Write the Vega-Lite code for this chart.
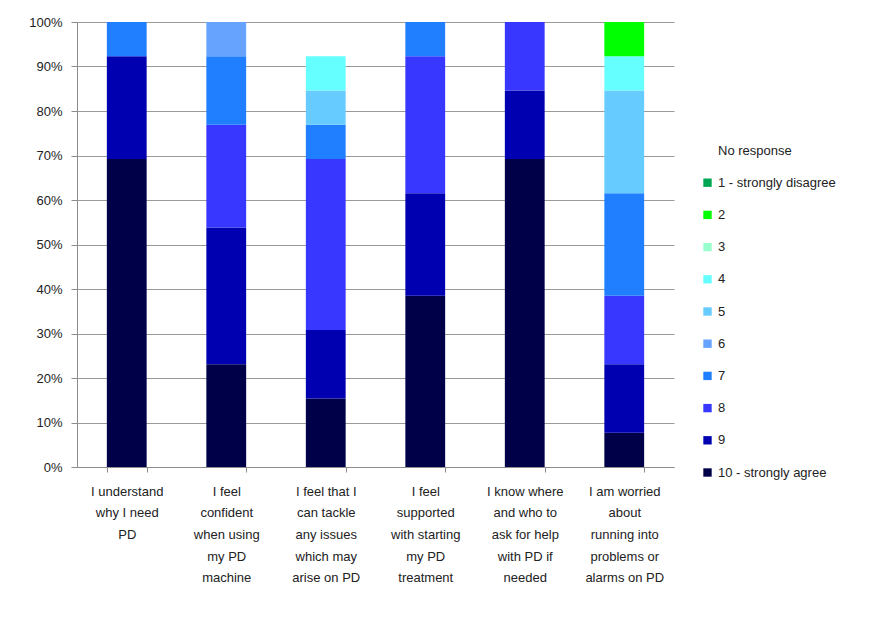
{
  "$schema": "https://vega.github.io/schema/vega-lite/v6.json",
  "autosize": {"type": "none"},
  "width": 597,
  "height": 445,
  "padding": {"left": 77, "top": 22, "right": 197, "bottom": 152},
  "background": "white",
  "config": {
    "font": "Liberation Sans",
    "view": {"stroke": null}
  },
  "data": {
    "values": [
      {"q": "I understand|why I need|PD", "resp": "10 - strongly agree", "score": 10, "n": 9},
      {"q": "I understand|why I need|PD", "resp": "9", "score": 9, "n": 3},
      {"q": "I understand|why I need|PD", "resp": "7", "score": 7, "n": 1},

      {"q": "I feel|confident|when using|my PD|machine", "resp": "10 - strongly agree", "score": 10, "n": 3},
      {"q": "I feel|confident|when using|my PD|machine", "resp": "9", "score": 9, "n": 4},
      {"q": "I feel|confident|when using|my PD|machine", "resp": "8", "score": 8, "n": 3},
      {"q": "I feel|confident|when using|my PD|machine", "resp": "7", "score": 7, "n": 2},
      {"q": "I feel|confident|when using|my PD|machine", "resp": "6", "score": 6, "n": 1},

      {"q": "I feel that I|can tackle|any issues|which may|arise on PD", "resp": "10 - strongly agree", "score": 10, "n": 2},
      {"q": "I feel that I|can tackle|any issues|which may|arise on PD", "resp": "9", "score": 9, "n": 2},
      {"q": "I feel that I|can tackle|any issues|which may|arise on PD", "resp": "8", "score": 8, "n": 5},
      {"q": "I feel that I|can tackle|any issues|which may|arise on PD", "resp": "7", "score": 7, "n": 1},
      {"q": "I feel that I|can tackle|any issues|which may|arise on PD", "resp": "5", "score": 5, "n": 1},
      {"q": "I feel that I|can tackle|any issues|which may|arise on PD", "resp": "4", "score": 4, "n": 1},
      {"q": "I feel that I|can tackle|any issues|which may|arise on PD", "resp": "No response", "score": 0, "n": 1},

      {"q": "I feel|supported|with starting|my PD|treatment", "resp": "10 - strongly agree", "score": 10, "n": 5},
      {"q": "I feel|supported|with starting|my PD|treatment", "resp": "9", "score": 9, "n": 3},
      {"q": "I feel|supported|with starting|my PD|treatment", "resp": "8", "score": 8, "n": 4},
      {"q": "I feel|supported|with starting|my PD|treatment", "resp": "7", "score": 7, "n": 1},

      {"q": "I know where|and who to|ask for help|with PD if|needed", "resp": "10 - strongly agree", "score": 10, "n": 9},
      {"q": "I know where|and who to|ask for help|with PD if|needed", "resp": "9", "score": 9, "n": 2},
      {"q": "I know where|and who to|ask for help|with PD if|needed", "resp": "8", "score": 8, "n": 2},

      {"q": "I am worried|about|running into|problems or|alarms on PD", "resp": "10 - strongly agree", "score": 10, "n": 1},
      {"q": "I am worried|about|running into|problems or|alarms on PD", "resp": "9", "score": 9, "n": 2},
      {"q": "I am worried|about|running into|problems or|alarms on PD", "resp": "8", "score": 8, "n": 2},
      {"q": "I am worried|about|running into|problems or|alarms on PD", "resp": "7", "score": 7, "n": 3},
      {"q": "I am worried|about|running into|problems or|alarms on PD", "resp": "5", "score": 5, "n": 3},
      {"q": "I am worried|about|running into|problems or|alarms on PD", "resp": "4", "score": 4, "n": 1},
      {"q": "I am worried|about|running into|problems or|alarms on PD", "resp": "2", "score": 2, "n": 1}
    ]
  },
  "mark": {"type": "bar"},
  "encoding": {
    "x": {
      "field": "q",
      "type": "nominal",
      "sort": null,
      "scale": {"paddingInner": 0.6, "paddingOuter": 0.3},
      "axis": {
        "title": null,
        "labelAngle": 0,
        "labelExpr": "split(datum.label, '|')",
        "labelFontSize": 13,
        "labelColor": "#222222",
        "labelLineHeight": 21.7,
        "labelPadding": 13,
        "labelLimit": 0,
        "tickBand": "extent",
        "tickColor": "#8c8c8c",
        "tickSize": 5,
        "domainColor": "#8c8c8c",
        "grid": false
      }
    },
    "y": {
      "field": "n",
      "type": "quantitative",
      "stack": "normalize",
      "scale": {"domain": [0, 1], "nice": false},
      "axis": {
        "title": null,
        "format": ".0%",
        "values": [0, 0.1, 0.2, 0.3, 0.4, 0.5, 0.6, 0.7, 0.8, 0.9, 1],
        "labelFontSize": 13,
        "labelColor": "#222222",
        "labelPadding": 9,
        "tickColor": "#8c8c8c",
        "tickSize": 6,
        "domainColor": "#8c8c8c",
        "gridColor": "#9a9a9a",
        "gridWidth": 1
      }
    },
    "color": {
      "field": "resp",
      "type": "nominal",
      "scale": {
        "domain": ["No response", "1 - strongly disagree", "2", "3", "4", "5", "6", "7", "8", "9", "10 - strongly agree"],
        "range": ["transparent", "#00a651", "#00ff00", "#99ffcc", "#66ffff", "#66ccff", "#66a3ff", "#1f7fff", "#3737ff", "#0000b0", "#000048"]
      },
      "legend": {
        "title": null,
        "orient": "none",
        "legendX": 624,
        "legendY": 122,
        "symbolType": "square",
        "symbolSize": 70,
        "symbolStrokeWidth": 0,
        "rowPadding": 18.2,
        "labelFontSize": 13,
        "labelColor": "#222222",
        "labelOffset": 4,
        "labelLimit": 0
      }
    },
    "order": {"field": "score", "type": "quantitative", "sort": "descending"}
  }
}
